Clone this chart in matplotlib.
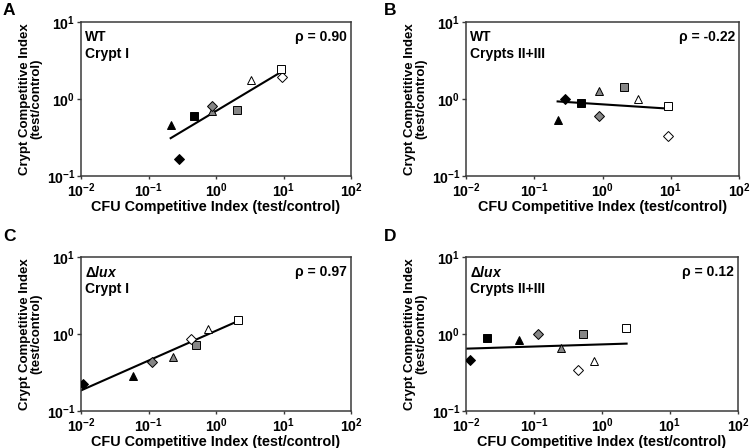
import matplotlib
matplotlib.use("Agg")
import matplotlib.pyplot as plt
from matplotlib.ticker import LogLocator, NullLocator

plt.rcParams['font.family'] = ['Liberation Sans', 'DejaVu Sans']
plt.rcParams['font.weight'] = 'bold'
plt.rcParams['axes.unicode_minus'] = False
plt.rcParams['mathtext.fontset'] = 'custom'
plt.rcParams['mathtext.rm'] = 'Liberation Sans:bold'
plt.rcParams['mathtext.it'] = 'Liberation Sans:italic:bold'
plt.rcParams['mathtext.bf'] = 'Liberation Sans:bold'

# strain order: black tri, black diamond, black square, grey tri, grey diamond,
# grey square, white tri, white diamond, white square
markers = ["^", "D", "s", "^", "D", "s", "^", "D", "s"]
faces = ["black", "black", "black", "#868686", "#868686", "#868686", "white", "white", "white"]

# panel A: WT crypt I
a_x = [0.215, 0.28, 0.48, 0.88, 0.88, 2.05, 3.25, 9.4, 9.2]
a_y = [0.455, 0.166, 0.594, 0.70, 0.80, 0.71, 1.79, 1.95, 2.48]
a_fit_x = [0.213, 9.6]
a_fit_y = [0.31, 2.29]

# panel B: WT crypts II+III
b_x = [0.22, 0.285, 0.49, 0.89, 0.89, 2.07, 3.27, 9.2, 9.0]
b_y = [0.54, 0.99, 0.89, 1.26, 0.61, 1.42, 0.99, 0.335, 0.80]
b_fit_x = [0.22, 9.2]
b_fit_y = [0.93, 0.75]

# panel C: delta lux crypt I (black square not visible)
c_x = [0.058, 0.0106, None, 0.233, 0.111, 0.506, 0.75, 0.427, 2.14]
c_y = [0.289, 0.225, None, 0.51, 0.438, 0.73, 1.15, 0.86, 1.52]
c_fit_x = [0.01, 2.07]
c_fit_y = [0.185, 1.46]

# panel D: delta lux crypts II+III
d_x = [0.061, 0.0115, 0.0204, 0.247, 0.116, 0.525, 0.77, 0.44, 2.23]
d_y = [0.845, 0.456, 0.89, 0.65, 1.0, 1.0, 0.443, 0.336, 1.21]
d_fit_x = [0.01, 2.3]
d_fit_y = [0.645, 0.75]

panels = [
    ("A", "WT", "Crypt I", "ρ = 0.90", a_x, a_y, a_fit_x, a_fit_y),
    ("B", "WT", "Crypts II+III", "ρ = -0.22", b_x, b_y, b_fit_x, b_fit_y),
    ("C", r"$\Delta\mathit{lux}$", "Crypt I", "ρ = 0.97", c_x, c_y, c_fit_x, c_fit_y),
    ("D", r"$\Delta\mathit{lux}$", "Crypts II+III", "ρ = 0.12", d_x, d_y, d_fit_x, d_fit_y),
]

W, H = 750, 448
boxes = [(81, 22, 270, 154), (466, 22, 273, 154), (81, 257, 270, 154), (466, 257, 272, 154)]
letters_pos = [(3, 3), (384, 3), (3, 229), (384, 229)]

fig = plt.figure(figsize=(7.5, 4.48), dpi=100)

for (letter, strain, crypt, rho, xs, ys, fx, fy), (l, t, w, h), (lx, ly) in zip(panels, boxes, letters_pos):
    ax = fig.add_axes([l / W, 1 - (t + h) / H, w / W, h / H])
    ax.set_xscale('log')
    ax.set_yscale('log')
    ax.set_xlim(1e-2, 1e2)
    ax.set_ylim(1e-1, 1e1)
    ax.xaxis.set_major_locator(LogLocator(base=10, numticks=10))
    ax.yaxis.set_major_locator(LogLocator(base=10, numticks=10))
    ax.xaxis.set_minor_locator(NullLocator())
    ax.yaxis.set_minor_locator(NullLocator())
    for s in ax.spines.values():
        s.set_color('#3a3a3a')
        s.set_linewidth(1.1)
    ax.tick_params(length=3, width=1, color='#3a3a3a', labelsize=10.2, pad=1)
    ax.tick_params(axis='x', length=2, pad=2.2)
    for lab in ax.get_xticklabels() + ax.get_yticklabels():
        lab.set_fontweight('bold')

    ax.plot(fx, fy, color='black', lw=1.5, zorder=2)
    for x, y, m, fc in zip(xs, ys, markers, faces):
        if x is None:
            continue
        ms = 6.3 if m != "D" else 4.8
        ax.plot(x, y, marker=m, ms=ms, mfc=fc, mec='black', mew=0.7, ls='none', zorder=3)

    ax.text(0.015, 0.945, strain, transform=ax.transAxes, fontsize=10, fontweight='bold', va='top', ha='left')
    ax.text(0.015, 0.84, crypt, transform=ax.transAxes, fontsize=10, fontweight='bold', va='top', ha='left')
    ax.text(0.985, 0.945, rho, transform=ax.transAxes, fontsize=10, fontweight='bold', va='top', ha='right')

    ax.set_xlabel("CFU Competitive Index (test/control)", fontsize=10.4, fontweight='bold', labelpad=-0.5)
    ax.set_ylabel("Crypt Competitive Index\n(test/control)", fontsize=9.5, fontweight='bold', labelpad=3, linespacing=0.95)

    fig.text(lx / W, 1 - ly / H, letter, fontsize=12.5, fontweight='bold', va='top', ha='left')

fig.savefig("out.png", dpi=100)
